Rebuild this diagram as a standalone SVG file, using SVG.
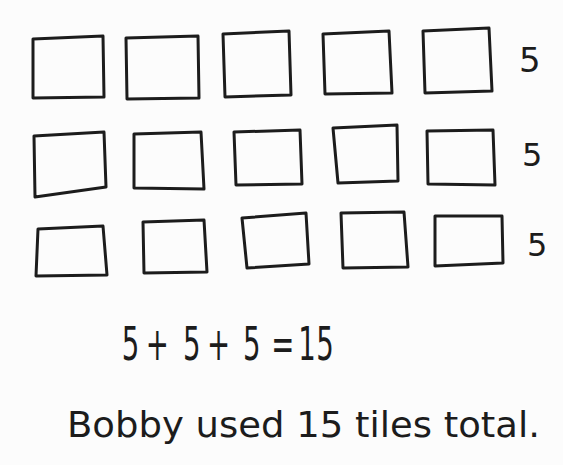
<svg xmlns="http://www.w3.org/2000/svg" width="563" height="465" viewBox="0 0 563 465">
<style>
.tile{fill:none;stroke:#1c1c1c;stroke-width:3;stroke-linejoin:round;stroke-linecap:round}
.lbl{font-family:"DejaVu Sans","Liberation Sans",sans-serif;fill:#1c1c1c}
</style>
<rect width="563" height="465" fill="#fcfcfc"/>
<g id="row1">
<g id="t11"><polygon class="tile" points="33,39 103,36 104,97 33,98"/></g>
<g id="t12"><polygon class="tile" points="126,38 198,36 199,98 127,99"/></g>
<g id="t13"><polygon class="tile" points="223,34 289,31 291,95 225,97"/></g>
<g id="t14"><polygon class="tile" points="323,34 389,31 392,93 325,94"/></g>
<g id="t15"><polygon class="tile" points="423,31 489,28 492,91 425,93"/></g>
<g id="n1"><text class="lbl" x="519" y="72" font-size="34">5</text></g>
</g>
<g id="row2">
<g id="t21"><polygon class="tile" points="34,136 104,132 106,187 35,197"/></g>
<g id="t22"><polygon class="tile" points="134,134 201,132 204,189 134,188"/></g>
<g id="t23"><polygon class="tile" points="234,132 300,130 302,184 236,185"/></g>
<g id="t24"><polygon class="tile" points="333,128 397,125 398,181 338,183"/></g>
<g id="t25"><polygon class="tile" points="427,131 493,130 495,185 428,184"/></g>
<g id="n2"><text class="lbl" x="522" y="166" font-size="32">5</text></g>
</g>
<g id="row3">
<g id="t31"><polygon class="tile" points="38,229 103,226 107,275 36,276"/></g>
<g id="t32"><polygon class="tile" points="143,222 204,220 207,272 144,273"/></g>
<g id="t33"><polygon class="tile" points="242,218 306,213 309,264 247,268"/></g>
<g id="t34"><polygon class="tile" points="341,213 404,212 408,267 343,268"/></g>
<g id="t35"><polygon class="tile" points="435,216 502,216 503,263 435,266"/></g>
<g id="n3"><text class="lbl" x="527" y="256" font-size="32">5</text></g>
</g>
<g id="equation"><text class="lbl" font-size="46" transform="translate(0,360) scale(0.6,1)" x="203 243 305 345 405 452 497 527" y="0">5+5+5=15</text></g>
<g id="sentence"><text class="lbl" font-size="36" x="67" y="437" textLength="473" lengthAdjust="spacingAndGlyphs">Bobby used 15 tiles total.</text></g>
</svg>
